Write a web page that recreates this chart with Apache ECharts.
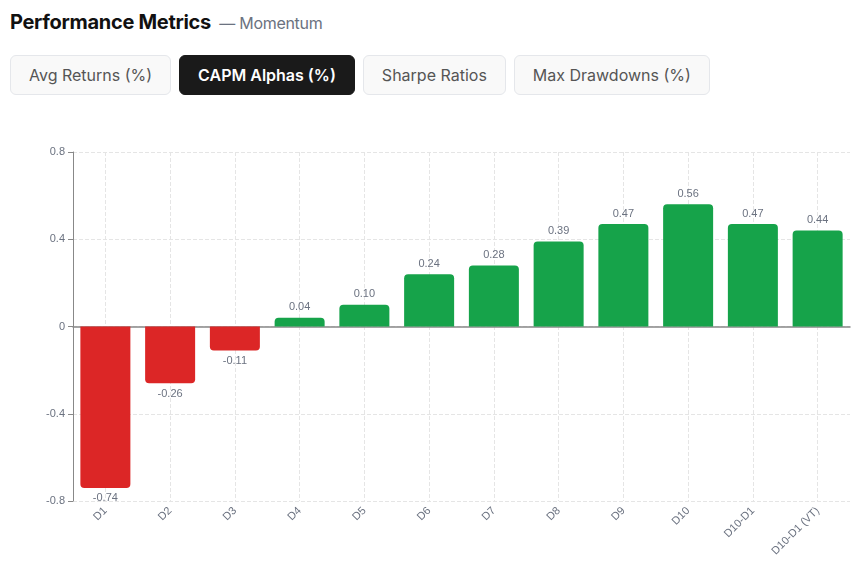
<!DOCTYPE html>
<html><head><meta charset="utf-8">
<script src="https://cdn.jsdelivr.net/npm/echarts@6/dist/echarts.min.js"></script>
<style>
body{margin:0;font-family:Inter,sans-serif;background:#fff;width:852px;height:562px;overflow:hidden}
.h{position:absolute;left:10px;top:10px;font-size:20px;font-weight:700;color:#111;letter-spacing:-0.3px}
.h span{font-size:16px;font-weight:400;color:#6b7280;margin-left:4px}
.tabs{position:absolute;left:10px;top:55px;display:flex;gap:8px}
.tabs div{height:40px;box-sizing:border-box;border:1px solid #e5e7eb;border-radius:6px;background:#f9f9f9;color:#555;font-size:16px;display:flex;align-items:center;padding:0 18px}
.tabs .a{background:#1a1a1a;color:#fff;border-color:#1a1a1a;font-weight:600}
#c{position:absolute;left:0;top:110px;width:852px;height:452px}
</style></head><body>
<div class="h">Performance Metrics <span>— Momentum</span></div>
<div class="tabs"><div>Avg Returns (%)</div><div class="a">CAPM Alphas (%)</div><div>Sharpe Ratios</div><div>Max Drawdowns (%)</div></div>
<div id="c"></div>
<script>
const categories=["D1","D2","D3","D4","D5","D6","D7","D8","D9","D10","D10-D1","D10-D1 (VT)"];
const values=[-0.74,-0.26,-0.11,0.04,0.10,0.24,0.28,0.39,0.47,0.56,0.47,0.44];
const chart=echarts.init(document.getElementById('c'));
chart.setOption({
 animation:false,
 grid:{left:73,right:2,top:42,bottom:61},
 xAxis:{type:'category',data:categories,
  axisLine:{lineStyle:{color:'#888',width:1.5}},
  axisTick:{alignWithLabel:true,lineStyle:{color:'#888'}},
  axisLabel:{rotate:45,color:'#6b7280',fontSize:11,interval:0},
  splitLine:{show:true,alignWithLabel:true,lineStyle:{type:'dashed',color:'#e5e5e5'}}},
 yAxis:{type:'value',min:-0.8,max:0.8,interval:0.4,
  axisLine:{show:true,lineStyle:{color:'#888'}},axisTick:{show:true,lineStyle:{color:'#888'}},
  axisLabel:{color:'#6b7280',fontSize:11,formatter:v=>String(Math.round(v*10)/10)},
  splitLine:{lineStyle:{type:'dashed',color:'#e5e5e5'}}},
 series:[{type:'bar',barWidth:50,
  data:values.map(v=>({value:v,itemStyle:{color:v<0?'#dc2626':'#16a34a',borderRadius:v<0?[0,0,4,4]:[4,4,0,0]}})),
  label:{show:true,position:'top',color:'#6b7280',fontSize:11,
   formatter:p=>p.value.toFixed(2)},
  labelLayout:null}]
});
const opt=chart.getOption();
chart.setOption({series:[{data:values.map(v=>({value:v,itemStyle:{color:v<0?'#dc2626':'#16a34a',borderRadius:v<0?[0,0,4,4]:[4,4,0,0]},label:{position:v<0?'bottom':'top'}}))}]});
</script></body></html>
